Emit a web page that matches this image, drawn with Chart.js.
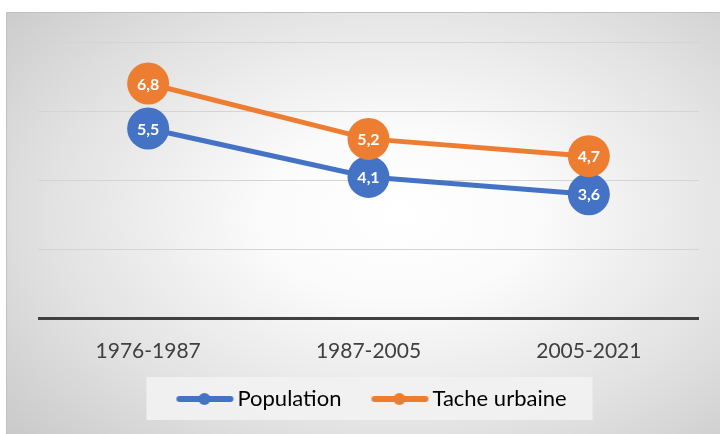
<!DOCTYPE html>
<html>
<head>
<meta charset="utf-8">
<script src="https://cdn.jsdelivr.net/npm/chart.js@4"></script>
<style>
  html, body { margin: 0; padding: 0; background: #fff; }
  #frame {
    position: absolute; left: 6px; top: 12px; width: 713px; height: 421px;
    border-top: 1px solid #c0c0c0; border-left: 1px solid #c0c0c0;
    background: radial-gradient(ellipse 75% 80% at 55% 48%, #ffffff 0%, #fbfbfb 25%, #e2e2e2 65%, #c8c8c8 100%);
  }
  canvas { display: block; }
</style>
</head>
<body>
<div id="frame"><canvas id="chart" width="713" height="421"></canvas></div>
<script>
// données
const periods = ['1976-1987', '1987-2005', '2005-2021'];
const population = [5.5, 4.1, 3.6];
const tacheUrbaine = [6.8, 5.2, 4.7];
const yTicks = [0, 2, 4, 6, 8];

const BLUE = '#4472C4';
const ORANGE = '#ED7D31';
const FONT = 'Lato, "Open Sans", sans-serif';

/* ===============================
   LEGEND SYMBOL (line + dot)
================================ */
// image 86px centrée sur une boîte de 70px : le trait va de +20 à +77 dans la boîte
function legendSymbol(color) {
  const c = document.createElement('canvas');
  c.width = 86; c.height = 14;
  const g = c.getContext('2d');
  g.strokeStyle = color;
  g.lineWidth = 6;
  g.lineCap = 'round';
  g.beginPath();
  g.moveTo(31, 7); g.lineTo(82, 7);
  g.stroke();
  g.fillStyle = color;
  g.beginPath();
  g.arc(56, 7, 6, 0, Math.PI * 2);
  g.fill();
  return c;
}

/* ===============================
   LABELS IN POINTS
================================ */
const pointLabels = {
  id: 'pointLabels',
  afterDatasetsDraw(chart) {
    const ctx = chart.ctx;
    ctx.save();
    ctx.fillStyle = '#fff';
    ctx.font = 'bold 16px ' + FONT;
    ctx.textAlign = 'center';
    ctx.textBaseline = 'middle';
    chart.data.datasets.forEach((ds, i) => {
      chart.getDatasetMeta(i).data.forEach((pt, j) => {
        ctx.fillText(String(ds.data[j]).replace('.', ','), pt.x, pt.y + 1);
      });
    });
    ctx.restore();
  }
};

/* ===============================
   LEGEND BACKGROUND + SHIFT
================================ */
const legendBox = {
  id: 'legendBox',
  afterLayout(chart) {
    // recentre visuellement la légende (le symbole a une marge à gauche)
    if (!chart.legend) return;
    chart.legend.left -= 10;
    chart.legend.right -= 10;
  },
  beforeDraw(chart) {
    const boxes = chart.legend && chart.legend.legendHitBoxes;
    if (!boxes || !boxes.length) return;
    const left = Math.min(...boxes.map(b => b.left)) - 10;
    const right = Math.max(...boxes.map(b => b.left + b.width)) + 26;
    const top = Math.min(...boxes.map(b => b.top)) - 11;
    const bottom = Math.max(...boxes.map(b => b.top + b.height)) + 10;
    const ctx = chart.ctx;
    ctx.save();
    ctx.fillStyle = 'rgba(242,242,242,0.9)';
    ctx.fillRect(left, top, right - left, bottom - top);
    ctx.restore();
  }
};

new Chart(document.getElementById('chart'), {
  type: 'line',
  data: {
    labels: periods,
    datasets: [
      {
        label: 'Population',
        data: population,
        borderColor: BLUE,
        backgroundColor: BLUE,
        borderWidth: 5,
        pointRadius: 21,
        pointBorderWidth: 0,
        pointStyle: 'circle',
        order: 2
      },
      {
        label: 'Tache urbaine',
        data: tacheUrbaine,
        borderColor: ORANGE,
        backgroundColor: ORANGE,
        borderWidth: 5,
        pointRadius: 21,
        pointBorderWidth: 0,
        pointStyle: 'circle',
        order: 1
      }
    ]
  },
  options: {
    responsive: false,
    animation: false,
    layout: { padding: { left: 31, right: 15, top: 29, bottom: 14 } },
    scales: {
      x: {
        offset: true,
        afterFit: axis => { axis.height += 2; },
        grid: { display: false },
        border: { display: false },
        ticks: {
          color: '#404040',
          font: { size: 21, family: FONT },
          padding: 12
        }
      },
      y: {
        min: yTicks[0],
        max: yTicks[yTicks.length - 1],
        afterBuildTicks: axis => { axis.ticks = yTicks.map(v => ({ value: v })); },
        grid: {
          drawTicks: false,
          color: c => c.tick.value === 0 ? '#404040' : '#d4d4d4',
          lineWidth: c => c.tick.value === 0 ? 3 : 1
        },
        border: { display: false },
        ticks: { display: false }
      }
    },
    plugins: {
      legend: {
        position: 'bottom',
        labels: {
          usePointStyle: true,
          pointStyleWidth: 70,
          padding: 10,
          color: '#404040',
          font: { size: 22, family: FONT },
          generateLabels: chart => chart.data.datasets.map((ds, i) => ({
            text: ds.label,
            pointStyle: legendSymbol(ds.borderColor),
            fillStyle: ds.borderColor,
            strokeStyle: ds.borderColor,
            lineWidth: 0,
            datasetIndex: i,
            hidden: false
          }))
        }
      },
      tooltip: { enabled: false }
    }
  },
  plugins: [legendBox, pointLabels]
});
</script>
</body>
</html>
